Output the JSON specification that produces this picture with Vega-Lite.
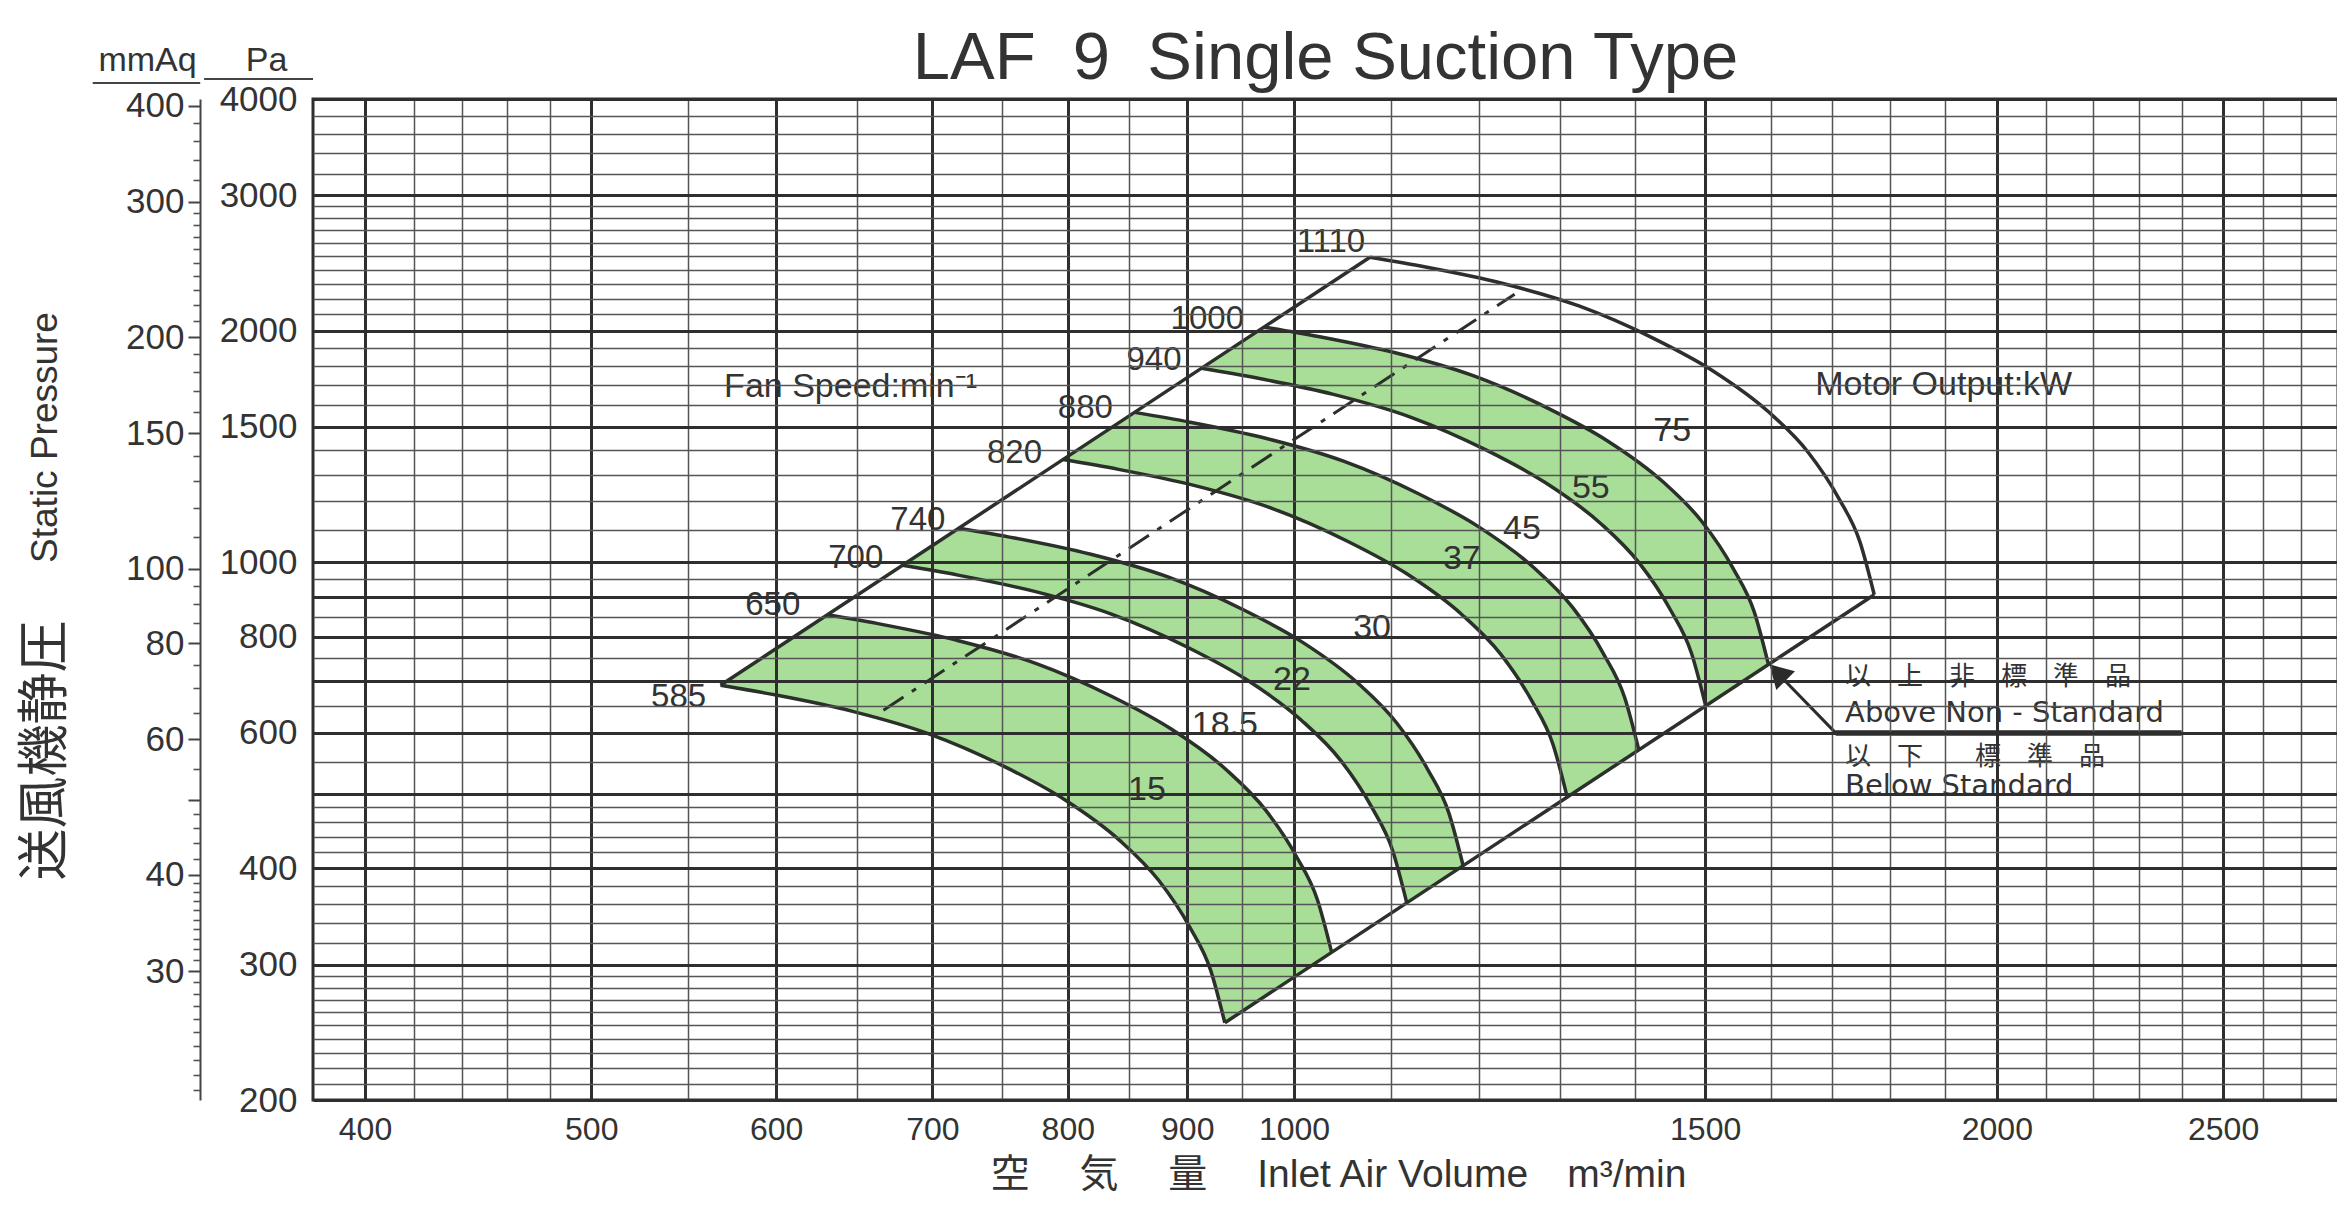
{
  "$schema": "https://vega.github.io/schema/vega-lite/v6.json",
  "width": 2025,
  "height": 1001,
  "autosize": {"type": "none"},
  "padding": {"left": 313, "top": 99, "right": 0, "bottom": 109},
  "background": "white",
  "title": {"text": "LAF\u00a0\u00a09\u00a0\u00a0Single Suction Type", "fontSize": 67, "font": "Liberation Sans", "fontWeight": "normal", "color": "#333333", "anchor": "middle", "frame": "group", "baseline": "alphabetic", "offset": 0, "dy": 103},
  "config": {"view": {"stroke": "#2e2e2e", "strokeWidth": 3}, "font": "Liberation Sans"},
  "datasets": {
    "arcs": [
      {"rpm": 585, "i": 1, "band": "A", "bo": 22, "q": 568, "p": 692},
      {"rpm": 585, "i": 2, "band": "A", "bo": 21, "q": 600, "p": 672},
      {"rpm": 585, "i": 3, "band": "A", "bo": 20, "q": 647, "p": 640},
      {"rpm": 585, "i": 4, "band": "A", "bo": 19, "q": 698, "p": 598},
      {"rpm": 585, "i": 5, "band": "A", "bo": 18, "q": 752, "p": 542},
      {"rpm": 585, "i": 6, "band": "A", "bo": 17, "q": 797, "p": 492},
      {"rpm": 585, "i": 7, "band": "A", "bo": 16, "q": 842, "p": 435},
      {"rpm": 585, "i": 8, "band": "A", "bo": 15, "q": 875, "p": 386},
      {"rpm": 585, "i": 9, "band": "A", "bo": 14, "q": 902, "p": 336},
      {"rpm": 585, "i": 10, "band": "A", "bo": 13, "q": 921, "p": 295},
      {"rpm": 585, "i": 11, "band": "A", "bo": 12, "q": 934, "p": 252},
      {"rpm": 650, "i": 1, "band": "A", "bo": 1, "q": 631.1, "p": 854.3},
      {"rpm": 650, "i": 2, "band": "A", "bo": 2, "q": 666.7, "p": 829.6},
      {"rpm": 650, "i": 3, "band": "A", "bo": 3, "q": 718.9, "p": 790.1},
      {"rpm": 650, "i": 4, "band": "A", "bo": 4, "q": 775.6, "p": 738.3},
      {"rpm": 650, "i": 5, "band": "A", "bo": 5, "q": 835.6, "p": 669.1},
      {"rpm": 650, "i": 6, "band": "A", "bo": 6, "q": 885.6, "p": 607.4},
      {"rpm": 650, "i": 7, "band": "A", "bo": 7, "q": 935.6, "p": 537.0},
      {"rpm": 650, "i": 8, "band": "A", "bo": 8, "q": 972.2, "p": 476.5},
      {"rpm": 650, "i": 9, "band": "A", "bo": 9, "q": 1002.2, "p": 414.8},
      {"rpm": 650, "i": 10, "band": "A", "bo": 10, "q": 1023.3, "p": 364.2},
      {"rpm": 650, "i": 11, "band": "A", "bo": 11, "q": 1037.8, "p": 311.1},
      {"rpm": 700, "i": 1, "band": "B", "bo": 22, "q": 679.7, "p": 990.8},
      {"rpm": 700, "i": 2, "band": "B", "bo": 21, "q": 717.9, "p": 962.2},
      {"rpm": 700, "i": 3, "band": "B", "bo": 20, "q": 774.2, "p": 916.4},
      {"rpm": 700, "i": 4, "band": "B", "bo": 19, "q": 835.2, "p": 856.2},
      {"rpm": 700, "i": 5, "band": "B", "bo": 18, "q": 899.8, "p": 776.0},
      {"rpm": 700, "i": 6, "band": "B", "bo": 17, "q": 953.7, "p": 704.4},
      {"rpm": 700, "i": 7, "band": "B", "bo": 16, "q": 1007.5, "p": 622.8},
      {"rpm": 700, "i": 8, "band": "B", "bo": 15, "q": 1047.0, "p": 552.7},
      {"rpm": 700, "i": 9, "band": "B", "bo": 14, "q": 1079.3, "p": 481.1},
      {"rpm": 700, "i": 10, "band": "B", "bo": 13, "q": 1102.0, "p": 422.4},
      {"rpm": 700, "i": 11, "band": "B", "bo": 12, "q": 1117.6, "p": 360.8},
      {"rpm": 740, "i": 1, "band": "B", "bo": 1, "q": 718.5, "p": 1107.3},
      {"rpm": 740, "i": 2, "band": "B", "bo": 2, "q": 759.0, "p": 1075.3},
      {"rpm": 740, "i": 3, "band": "B", "bo": 3, "q": 818.4, "p": 1024.1},
      {"rpm": 740, "i": 4, "band": "B", "bo": 4, "q": 883.0, "p": 956.9},
      {"rpm": 740, "i": 5, "band": "B", "bo": 5, "q": 951.2, "p": 867.3},
      {"rpm": 740, "i": 6, "band": "B", "bo": 6, "q": 1008.2, "p": 787.3},
      {"rpm": 740, "i": 7, "band": "B", "bo": 7, "q": 1065.1, "p": 696.1},
      {"rpm": 740, "i": 8, "band": "B", "bo": 8, "q": 1106.8, "p": 617.6},
      {"rpm": 740, "i": 9, "band": "B", "bo": 9, "q": 1141.0, "p": 537.6},
      {"rpm": 740, "i": 10, "band": "B", "bo": 10, "q": 1165.0, "p": 472.0},
      {"rpm": 740, "i": 11, "band": "B", "bo": 11, "q": 1181.5, "p": 403.2},
      {"rpm": 820, "i": 1, "band": "C", "bo": 22, "q": 796.2, "p": 1359.6},
      {"rpm": 820, "i": 2, "band": "C", "bo": 21, "q": 841.0, "p": 1320.3},
      {"rpm": 820, "i": 3, "band": "C", "bo": 20, "q": 906.9, "p": 1257.5},
      {"rpm": 820, "i": 4, "band": "C", "bo": 19, "q": 978.4, "p": 1175.0},
      {"rpm": 820, "i": 5, "band": "C", "bo": 18, "q": 1054.1, "p": 1064.9},
      {"rpm": 820, "i": 6, "band": "C", "bo": 17, "q": 1117.2, "p": 966.7},
      {"rpm": 820, "i": 7, "band": "C", "bo": 16, "q": 1180.2, "p": 854.7},
      {"rpm": 820, "i": 8, "band": "C", "bo": 15, "q": 1226.5, "p": 758.4},
      {"rpm": 820, "i": 9, "band": "C", "bo": 14, "q": 1264.3, "p": 660.2},
      {"rpm": 820, "i": 10, "band": "C", "bo": 13, "q": 1291.0, "p": 579.6},
      {"rpm": 820, "i": 11, "band": "C", "bo": 12, "q": 1309.2, "p": 495.1},
      {"rpm": 880, "i": 1, "band": "C", "bo": 1, "q": 854.4, "p": 1565.9},
      {"rpm": 880, "i": 2, "band": "C", "bo": 2, "q": 902.6, "p": 1520.6},
      {"rpm": 880, "i": 3, "band": "C", "bo": 3, "q": 973.3, "p": 1448.2},
      {"rpm": 880, "i": 4, "band": "C", "bo": 4, "q": 1050.0, "p": 1353.2},
      {"rpm": 880, "i": 5, "band": "C", "bo": 5, "q": 1131.2, "p": 1226.5},
      {"rpm": 880, "i": 6, "band": "C", "bo": 6, "q": 1198.9, "p": 1113.3},
      {"rpm": 880, "i": 7, "band": "C", "bo": 7, "q": 1266.6, "p": 984.3},
      {"rpm": 880, "i": 8, "band": "C", "bo": 8, "q": 1316.2, "p": 873.5},
      {"rpm": 880, "i": 9, "band": "C", "bo": 9, "q": 1356.9, "p": 760.3},
      {"rpm": 880, "i": 10, "band": "C", "bo": 10, "q": 1385.4, "p": 667.5},
      {"rpm": 880, "i": 11, "band": "C", "bo": 11, "q": 1405.0, "p": 570.2},
      {"rpm": 940, "i": 1, "band": "D", "bo": 22, "q": 912.7, "p": 1786.7},
      {"rpm": 940, "i": 2, "band": "D", "bo": 21, "q": 964.1, "p": 1735.1},
      {"rpm": 940, "i": 3, "band": "D", "bo": 20, "q": 1039.6, "p": 1652.4},
      {"rpm": 940, "i": 4, "band": "D", "bo": 19, "q": 1121.6, "p": 1544.0},
      {"rpm": 940, "i": 5, "band": "D", "bo": 18, "q": 1208.3, "p": 1399.4},
      {"rpm": 940, "i": 6, "band": "D", "bo": 17, "q": 1280.6, "p": 1270.3},
      {"rpm": 940, "i": 7, "band": "D", "bo": 16, "q": 1353.0, "p": 1123.1},
      {"rpm": 940, "i": 8, "band": "D", "bo": 15, "q": 1406.0, "p": 996.6},
      {"rpm": 940, "i": 9, "band": "D", "bo": 14, "q": 1449.4, "p": 867.5},
      {"rpm": 940, "i": 10, "band": "D", "bo": 13, "q": 1479.9, "p": 761.7},
      {"rpm": 940, "i": 11, "band": "D", "bo": 12, "q": 1500.8, "p": 650.6},
      {"rpm": 1000, "i": 1, "band": "D", "bo": 1, "q": 970.9, "p": 2022.1},
      {"rpm": 1000, "i": 2, "band": "D", "bo": 2, "q": 1025.6, "p": 1963.6},
      {"rpm": 1000, "i": 3, "band": "D", "bo": 3, "q": 1106.0, "p": 1870.1},
      {"rpm": 1000, "i": 4, "band": "D", "bo": 4, "q": 1193.2, "p": 1747.4},
      {"rpm": 1000, "i": 5, "band": "D", "bo": 5, "q": 1285.5, "p": 1583.7},
      {"rpm": 1000, "i": 6, "band": "D", "bo": 6, "q": 1362.4, "p": 1437.6},
      {"rpm": 1000, "i": 7, "band": "D", "bo": 7, "q": 1439.3, "p": 1271.1},
      {"rpm": 1000, "i": 8, "band": "D", "bo": 8, "q": 1495.7, "p": 1127.9},
      {"rpm": 1000, "i": 9, "band": "D", "bo": 9, "q": 1541.9, "p": 981.8},
      {"rpm": 1000, "i": 10, "band": "D", "bo": 10, "q": 1574.4, "p": 862.0},
      {"rpm": 1000, "i": 11, "band": "D", "bo": 11, "q": 1596.6, "p": 736.4},
      {"rpm": 1110, "i": 1, "band": null, "bo": null, "q": 1077.7, "p": 2491.4},
      {"rpm": 1110, "i": 2, "band": null, "bo": null, "q": 1138.5, "p": 2419.4},
      {"rpm": 1110, "i": 3, "band": null, "bo": null, "q": 1227.6, "p": 2304.2},
      {"rpm": 1110, "i": 4, "band": null, "bo": null, "q": 1324.4, "p": 2153.0},
      {"rpm": 1110, "i": 5, "band": null, "bo": null, "q": 1426.9, "p": 1951.3},
      {"rpm": 1110, "i": 6, "band": null, "bo": null, "q": 1512.3, "p": 1771.3},
      {"rpm": 1110, "i": 7, "band": null, "bo": null, "q": 1597.6, "p": 1566.1},
      {"rpm": 1110, "i": 8, "band": null, "bo": null, "q": 1660.3, "p": 1389.7},
      {"rpm": 1110, "i": 9, "band": null, "bo": null, "q": 1711.5, "p": 1209.7},
      {"rpm": 1110, "i": 10, "band": null, "bo": null, "q": 1747.5, "p": 1062.1},
      {"rpm": 1110, "i": 11, "band": null, "bo": null, "q": 1772.2, "p": 907.3}
    ],
    "bounds": [
      {"side": "upper", "i": 1, "q": 568, "p": 692},
      {"side": "upper", "i": 2, "q": 1077.7, "p": 2491.4},
      {"side": "lower", "i": 1, "q": 934, "p": 252},
      {"side": "lower", "i": 2, "q": 1772.2, "p": 907.3}
    ],
    "dash": [
      {"i": 1, "q": 667, "p": 642},
      {"i": 2, "q": 1243, "p": 2230}
    ],
    "diag": [
      {"i": 1, "q": 1706, "p": 600},
      {"i": 2, "q": 1605, "p": 726}
    ],
    "underline": [
      {"i": 1, "q": 1706, "p": 600},
      {"i": 2, "q": 2400, "p": 600}
    ],
    "arrowhead": [
      {"q": 1611, "p": 719}
    ],
    "headerlines": [
      {"q": 305.8, "q2": 340.0, "p": 4196},
      {"q": 341.3, "q2": 380.0, "p": 4247}
    ],
    "rpmlab": [
      {"t": "585", "q": 545, "p": 668},
      {"t": "650", "q": 598, "p": 880},
      {"t": "700", "q": 649, "p": 1012},
      {"t": "740", "q": 690, "p": 1134},
      {"t": "820", "q": 759, "p": 1387},
      {"t": "880", "q": 814, "p": 1587},
      {"t": "940", "q": 871, "p": 1832},
      {"t": "1000", "q": 918, "p": 2071},
      {"t": "1110", "q": 1037, "p": 2607}
    ],
    "kwlab": [
      {"t": "15", "q": 865, "p": 506},
      {"t": "18.5", "q": 934, "p": 614},
      {"t": "22", "q": 998, "p": 703},
      {"t": "30", "q": 1080, "p": 822},
      {"t": "37", "q": 1180, "p": 1010},
      {"t": "45", "q": 1252, "p": 1104},
      {"t": "55", "q": 1340, "p": 1249},
      {"t": "75", "q": 1452, "p": 1481}
    ],
    "heads": [
      {"t": "Fan Speed:min⁻¹", "q": 570, "p": 1689},
      {"t": "Motor Output:kW", "q": 1672, "p": 1700}
    ],
    "notes": [
      {"t": "Above Non - Standard", "q": 1722, "p": 637},
      {"t": "Below Standard", "q": 1722, "p": 512}
    ],
    "cjknotes": [
      {"t": "以　上　非　標　準　品", "q": 1722, "p": 709},
      {"t": "以　下　　標　準　品", "q": 1722, "p": 559}
    ],
    "anchor": [
      {"q": 1000, "mm": 100}
    ]
  },
  "resolve": {"scale": {"y": "independent"}, "axis": {"y": "independent", "x": "independent"}},
  "layer": [
    {
      "data": {"name": "anchor"},
      "mark": {"type": "point", "opacity": 0},
      "encoding": {
        "x": {"field": "q", "type": "quantitative", "scale": {"type": "log", "domain": [380, 2800], "nice": false},
          "axis": {
            "orient": "bottom",
            "values": [400,420,440,460,480,500,550,600,650,700,750,800,850,900,950,1000,1100,1200,1300,1400,1500,1600,1700,1800,1900,2000,2100,2200,2300,2400,2500,2600,2700],
            "grid": true,
            "gridColor": {"condition": {"test": "indexof([400,500,600,700,800,900,1000,1500,2000,2500], datum.value) >= 0", "value": "#2e2e2e"}, "value": "#555555"},
            "gridWidth": {"condition": {"test": "indexof([400,500,600,700,800,900,1000,1500,2000,2500], datum.value) >= 0", "value": 3}, "value": 1.5},
            "ticks": false, "domain": false,
            "labelExpr": "indexof([400,500,600,700,800,900,1000,1500,2000,2500], datum.value) >= 0 ? datum.value : ''",
            "labelFontSize": 32, "labelColor": "#333333", "labelPadding": 14, "labelFlush": false, "labelOverlap": false, "labelBound": false,
            "title": "空　 気　 量　 Inlet Air Volume　m³/min",
            "titleFont": "Liberation Sans, Noto Sans CJK JP", "titleFontSize": 39, "titleFontWeight": "normal", "titleColor": "#333333",
            "titleX": 1025, "titleY": 86, "titleAlign": "center", "titleBaseline": "alphabetic",
            "zindex": 1
          }
        },
        "y": {"field": "mm", "type": "quantitative", "scale": {"type": "log", "domain": [20.3943, 407.886], "nice": false}, "axis": null}
      }
    },
    {
      "data": {"name": "arcs"},
      "transform": [{"filter": "isValid(datum.band)"}],
      "mark": {"type": "line", "fill": "#a8de98", "stroke": "#a8de98", "strokeWidth": 0.5},
      "encoding": {
        "x": {"field": "q", "type": "quantitative", "scale": {"type": "log", "domain": [380, 2800], "nice": false}, "axis": null},
        "y": {"field": "p", "type": "quantitative", "scale": {"type": "log", "domain": [200, 4000], "nice": false},
          "axis": {
            "orient": "left",
            "values": [200,210,220,230,240,250,260,270,280,290,300,320,340,360,380,400,420,440,460,480,500,550,600,650,700,750,800,850,900,950,1000,1100,1200,1300,1400,1500,1600,1700,1800,1900,2000,2100,2200,2300,2400,2500,2600,2700,2800,2900,3000,3200,3400,3600,3800,4000],
            "grid": true,
            "gridColor": {"condition": {"test": "indexof([200,300,400,500,600,700,800,900,1000,1500,2000,3000,4000], datum.value) >= 0", "value": "#2e2e2e"}, "value": "#555555"},
            "gridWidth": {"condition": {"test": "indexof([200,300,400,500,600,700,800,900,1000,1500,2000,3000,4000], datum.value) >= 0", "value": 3}, "value": 1.5},
            "ticks": false, "domain": false,
            "labelExpr": "indexof([200,300,400,600,800,1000,1500,2000,3000,4000], datum.value) >= 0 ? datum.value : ''",
            "labelFontSize": 35, "labelColor": "#333333", "labelPadding": 16, "labelAlign": "right", "labelBaseline": "middle",
            "labelFlush": false, "labelOverlap": false, "labelBound": false,
            "title": "Pa", "titleAngle": 0, "titleX": -47, "titleY": -29, "titleAlign": "center", "titleBaseline": "alphabetic",
            "titleFontSize": 34, "titleFontWeight": "normal", "titleColor": "#333333",
            "zindex": 1
          }
        },
        "detail": {"field": "band", "type": "nominal"},
        "order": {"field": "bo", "type": "quantitative"}
      }
    },
    {
      "data": {"name": "arcs"},
      "mark": {"type": "line", "stroke": "#2b302b", "strokeWidth": 3.5, "interpolate": "monotone"},
      "encoding": {
        "x": {"field": "q", "type": "quantitative", "scale": {"type": "log", "domain": [380, 2800], "nice": false}, "axis": null},
        "y": {"field": "p", "type": "quantitative", "scale": {"type": "log", "domain": [200, 4000], "nice": false}, "axis": null},
        "detail": {"field": "rpm", "type": "nominal"},
        "order": {"field": "i", "type": "quantitative"}
      }
    },
    {
      "data": {"name": "bounds"},
      "mark": {"type": "line", "stroke": "#2b302b", "strokeWidth": 3.5},
      "encoding": {
        "x": {"field": "q", "type": "quantitative", "scale": {"type": "log", "domain": [380, 2800], "nice": false}, "axis": null},
        "y": {"field": "p", "type": "quantitative", "scale": {"type": "log", "domain": [200, 4000], "nice": false}, "axis": null},
        "detail": {"field": "side", "type": "nominal"},
        "order": {"field": "i", "type": "quantitative"}
      }
    },
    {
      "data": {"name": "dash"},
      "mark": {"type": "line", "stroke": "#2b302b", "strokeWidth": 3, "strokeDash": [24, 10, 5, 10]},
      "encoding": {
        "x": {"field": "q", "type": "quantitative", "scale": {"type": "log", "domain": [380, 2800], "nice": false}, "axis": null},
        "y": {"field": "p", "type": "quantitative", "scale": {"type": "log", "domain": [200, 4000], "nice": false}, "axis": null},
        "order": {"field": "i", "type": "quantitative"}
      }
    },
    {
      "data": {"name": "diag"},
      "mark": {"type": "line", "stroke": "#2b2b2b", "strokeWidth": 3},
      "encoding": {
        "x": {"field": "q", "type": "quantitative", "scale": {"type": "log", "domain": [380, 2800], "nice": false}, "axis": null},
        "y": {"field": "p", "type": "quantitative", "scale": {"type": "log", "domain": [200, 4000], "nice": false}, "axis": null},
        "order": {"field": "i", "type": "quantitative"}
      }
    },
    {
      "data": {"name": "underline"},
      "mark": {"type": "line", "stroke": "#2b2b2b", "strokeWidth": 5.5},
      "encoding": {
        "x": {"field": "q", "type": "quantitative", "scale": {"type": "log", "domain": [380, 2800], "nice": false}, "axis": null},
        "y": {"field": "p", "type": "quantitative", "scale": {"type": "log", "domain": [200, 4000], "nice": false}, "axis": null},
        "order": {"field": "i", "type": "quantitative"}
      }
    },
    {
      "data": {"name": "arrowhead"},
      "mark": {"type": "point", "shape": "triangle-up", "filled": true, "color": "#2b2b2b", "opacity": 1, "size": 700, "angle": 315},
      "encoding": {
        "x": {"field": "q", "type": "quantitative", "scale": {"type": "log", "domain": [380, 2800], "nice": false}, "axis": null},
        "y": {"field": "p", "type": "quantitative", "scale": {"type": "log", "domain": [200, 4000], "nice": false}, "axis": null}
      }
    },
    {
      "data": {"name": "headerlines"},
      "mark": {"type": "rule", "stroke": "#444444", "strokeWidth": 2, "clip": false},
      "encoding": {
        "x": {"field": "q", "type": "quantitative", "scale": {"type": "log", "domain": [380, 2800], "nice": false}, "axis": null},
        "x2": {"field": "q2"},
        "y": {"field": "p", "type": "quantitative", "scale": {"type": "log", "domain": [200, 4000], "nice": false}, "axis": null}
      }
    },
    {
      "data": {"name": "rpmlab"},
      "mark": {"type": "text", "fontSize": 33, "color": "#333333", "align": "center", "baseline": "middle", "font": "Liberation Sans"},
      "encoding": {
        "x": {"field": "q", "type": "quantitative", "scale": {"type": "log", "domain": [380, 2800], "nice": false}, "axis": null},
        "y": {"field": "p", "type": "quantitative", "scale": {"type": "log", "domain": [200, 4000], "nice": false}, "axis": null},
        "text": {"field": "t", "type": "nominal"}
      }
    },
    {
      "data": {"name": "kwlab"},
      "mark": {"type": "text", "fontSize": 34, "color": "#333333", "align": "center", "baseline": "middle", "font": "Liberation Sans"},
      "encoding": {
        "x": {"field": "q", "type": "quantitative", "scale": {"type": "log", "domain": [380, 2800], "nice": false}, "axis": null},
        "y": {"field": "p", "type": "quantitative", "scale": {"type": "log", "domain": [200, 4000], "nice": false}, "axis": null},
        "text": {"field": "t", "type": "nominal"}
      }
    },
    {
      "data": {"name": "heads"},
      "mark": {"type": "text", "fontSize": 34, "color": "#333333", "align": "left", "baseline": "middle", "font": "Liberation Sans"},
      "encoding": {
        "x": {"field": "q", "type": "quantitative", "scale": {"type": "log", "domain": [380, 2800], "nice": false}, "axis": null},
        "y": {"field": "p", "type": "quantitative", "scale": {"type": "log", "domain": [200, 4000], "nice": false}, "axis": null},
        "text": {"field": "t", "type": "nominal"}
      }
    },
    {
      "data": {"name": "notes"},
      "mark": {"type": "text", "fontSize": 29, "color": "#333333", "align": "left", "baseline": "middle", "font": "DejaVu Sans"},
      "encoding": {
        "x": {"field": "q", "type": "quantitative", "scale": {"type": "log", "domain": [380, 2800], "nice": false}, "axis": null},
        "y": {"field": "p", "type": "quantitative", "scale": {"type": "log", "domain": [200, 4000], "nice": false}, "axis": null},
        "text": {"field": "t", "type": "nominal"}
      }
    },
    {
      "data": {"name": "cjknotes"},
      "mark": {"type": "text", "fontSize": 26, "color": "#333333", "align": "left", "baseline": "middle", "font": "Noto Sans CJK JP"},
      "encoding": {
        "x": {"field": "q", "type": "quantitative", "scale": {"type": "log", "domain": [380, 2800], "nice": false}, "axis": null},
        "y": {"field": "p", "type": "quantitative", "scale": {"type": "log", "domain": [200, 4000], "nice": false}, "axis": null},
        "text": {"field": "t", "type": "nominal"}
      }
    },
    {
      "data": {"name": "anchor"},
      "mark": {"type": "point", "opacity": 0},
      "encoding": {
        "x": {"field": "q", "type": "quantitative", "scale": {"type": "log", "domain": [380, 2800], "nice": false}, "axis": null},
        "y": {"field": "mm", "type": "quantitative", "scale": {"type": "log", "domain": [20.3943, 407.886], "nice": false},
          "axis": {
            "orient": "left", "offset": 113,
            "values": [20,30,40,50,60,80,100,150,200,300,400],
            "grid": false, "domain": true, "domainColor": "#444444", "domainWidth": 2,
            "ticks": true, "tickSize": 12, "tickWidth": 2, "tickColor": "#444444",
            "labelExpr": "datum.value == 50 ? '' : datum.value",
            "labelFontSize": 35, "labelColor": "#333333", "labelPadding": 4, "labelBaseline": "middle",
            "labelFlush": false, "labelOverlap": false, "labelBound": false,
            "title": "mmAq", "titleAngle": 0, "titleX": -53, "titleY": -29, "titleAlign": "center", "titleBaseline": "alphabetic",
            "titleFontSize": 34, "titleFontWeight": "normal", "titleColor": "#333333"
          }
        }
      }
    },
    {
      "data": {"name": "anchor"},
      "mark": {"type": "point", "opacity": 0},
      "encoding": {
        "x": {"field": "q", "type": "quantitative", "scale": {"type": "log", "domain": [380, 2800], "nice": false}, "axis": null},
        "y": {"field": "mm", "type": "quantitative", "scale": {"type": "log", "domain": [20.3943, 407.886], "nice": false},
          "axis": {
            "orient": "left", "offset": 113,
            "values": [21,22,23,24,25,26,27,28,29,31,32,33,34,35,36,37,38,39,42,44,46,48,55,65,70,75,85,90,95,110,120,130,140,160,170,180,190,210,220,230,240,250,260,270,280,290,320,340,360,380],
            "grid": false, "domain": false, "labels": false,
            "ticks": true, "tickSize": 7, "tickWidth": 1.6, "tickColor": "#555555",
            "title": null
          }
        }
      }
    },
    {
      "data": {"name": "anchor"},
      "mark": {"type": "point", "opacity": 0},
      "encoding": {
        "x": {"field": "q", "type": "quantitative", "scale": {"type": "log", "domain": [380, 2800], "nice": false}, "axis": null},
        "y": {"field": "mm", "type": "quantitative", "scale": {"type": "log", "domain": [20.3943, 407.886], "nice": false},
          "axis": {
            "orient": "left", "offset": 0, "grid": false, "domain": false, "labels": false, "ticks": false,
            "title": "送風機静圧", "titleFont": "Noto Sans CJK JP", "titleFontSize": 52, "titleFontWeight": "normal", "titleColor": "#333333",
            "titleAngle": -90, "titleX": -268, "titleY": 651, "titleAlign": "center", "titleBaseline": "middle"
          }
        }
      }
    },
    {
      "data": {"name": "anchor"},
      "mark": {"type": "point", "opacity": 0},
      "encoding": {
        "x": {"field": "q", "type": "quantitative", "scale": {"type": "log", "domain": [380, 2800], "nice": false}, "axis": null},
        "y": {"field": "mm", "type": "quantitative", "scale": {"type": "log", "domain": [20.3943, 407.886], "nice": false},
          "axis": {
            "orient": "left", "offset": 0, "grid": false, "domain": false, "labels": false, "ticks": false,
            "title": "Static Pressure", "titleFont": "Liberation Sans", "titleFontSize": 37, "titleFontWeight": "normal", "titleColor": "#333333",
            "titleAngle": -90, "titleX": -268, "titleY": 338, "titleAlign": "center", "titleBaseline": "middle"
          }
        }
      }
    }
  ]
}
